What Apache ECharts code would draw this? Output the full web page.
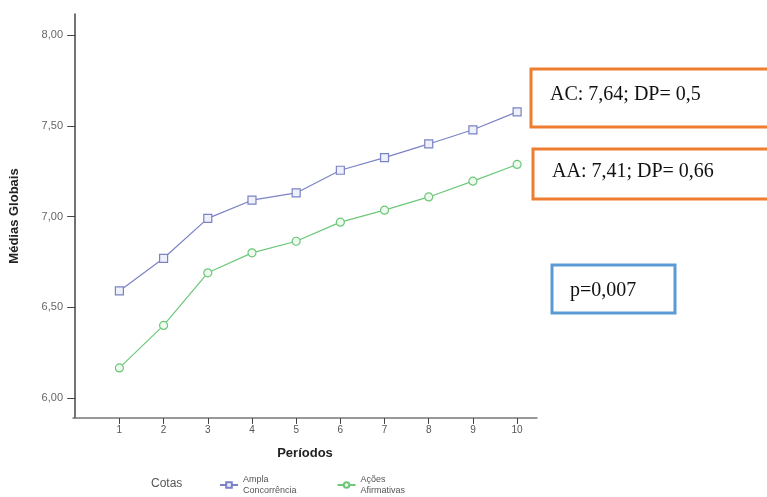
<!DOCTYPE html>
<html><head><meta charset="utf-8">
<script src="https://cdn.jsdelivr.net/npm/echarts@6/dist/echarts.min.js"></script>
<style>html,body{margin:0;padding:0;background:#fff}#c{width:767px;height:497px}</style>
</head><body><div id="c"></div>
<script>
const periods = [1,2,3,4,5,6,7,8,9,10];
const amplaConcorrencia = [6.59,6.77,6.99,7.09,7.13,7.255,7.325,7.40,7.478,7.577];
const acoesAfirmativas = [6.166,6.40,6.69,6.80,6.864,6.969,7.035,7.108,7.195,7.287];
const yTicks = [6.00,6.50,7.00,7.50,8.00];
const seriesNames = ['Ampla\nConcorrência','Ações\nAfirmativas'];

const blue = '#7b82c6', green = '#6cc878';
const chart = echarts.init(document.getElementById('c'));
chart.setOption({
  animation:false,
  grid:{left:72,top:14,right:230,bottom:79,containLabel:false},
  xAxis:{type:'value',min:-0.05,max:10.45,
    name:'Períodos',nameLocation:'middle',nameGap:29,
    nameTextStyle:{fontFamily:'Liberation Sans',fontWeight:'bold',fontSize:13,color:'#222'},
    axisLine:{lineStyle:{color:'#777',width:1.5}},
    axisTick:{show:true,length:6,inside:false,customValues:periods,lineStyle:{color:'#444'}},
    axisLabel:{customValues:periods,fontSize:10,color:'#555',margin:7,fontFamily:'Liberation Sans'},
    splitLine:{show:false}},
  yAxis:{type:'value',min:5.89,max:8.116,
    name:'Médias Globais',nameLocation:'middle',nameGap:52,nameRotate:90,
    nameTextStyle:{fontFamily:'Liberation Sans',fontWeight:'bold',fontSize:13,color:'#222'},
    axisLine:{show:true,lineStyle:{color:'#444',width:1.5}},
    axisTick:{show:true,length:8,customValues:yTicks,lineStyle:{color:'#444'}},
    axisLabel:{customValues:yTicks,formatter:v=>v.toFixed(2).replace('.',','),fontSize:11,color:'#666',margin:10,fontFamily:'Liberation Sans'},
    splitLine:{show:false}},
  legend:{left:214,top:469,itemWidth:18,itemHeight:7,itemGap:40,
    textStyle:{fontSize:9,color:'#555',fontFamily:'Liberation Sans',lineHeight:11},
    data:seriesNames},
  series:[
    {name:seriesNames[0],type:'line',data:periods.map((p,i)=>[p,amplaConcorrencia[i]]),
     symbol:'rect',symbolSize:8,lineStyle:{color:blue,width:1.2},
     itemStyle:{color:'#eef0fa',borderColor:blue,borderWidth:1.2}},
    {name:seriesNames[1],type:'line',data:periods.map((p,i)=>[p,acoesAfirmativas[i]]),
     symbol:'circle',symbolSize:8,lineStyle:{color:green,width:1.2},
     itemStyle:{color:'#eefaf0',borderColor:green,borderWidth:1.2}}
  ],
  graphic:[
    {type:'text',left:151,top:478,style:{text:'Cotas',fontSize:12,fill:'#555',fontFamily:'Liberation Sans'}},
    {type:'rect',shape:{x:531,y:69,width:250,height:58},style:{fill:'#fff',stroke:'#ed7d31',lineWidth:3}},
    {type:'text',left:550,top:85,style:{text:'AC: 7,64; DP= 0,5',fontSize:20,fill:'#111',fontFamily:'Liberation Serif'}},
    {type:'rect',shape:{x:533,y:149,width:250,height:50},style:{fill:'#fff',stroke:'#ed7d31',lineWidth:3}},
    {type:'text',left:552,top:162,style:{text:'AA: 7,41; DP= 0,66',fontSize:20,fill:'#111',fontFamily:'Liberation Serif'}},
    {type:'rect',shape:{x:552,y:265,width:123,height:48},style:{fill:'#fff',stroke:'#5b9bd5',lineWidth:3}},
    {type:'text',left:570,top:281,style:{text:'p=0,007',fontSize:20,fill:'#111',fontFamily:'Liberation Serif'}}
  ]
});
</script></body></html>
